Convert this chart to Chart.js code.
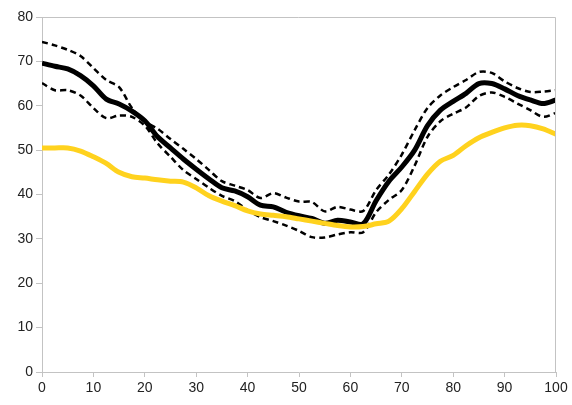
<!DOCTYPE html>
<html>
<head>
<meta charset="utf-8">
<script src="https://cdn.jsdelivr.net/npm/chart.js@4/dist/chart.umd.min.js"></script>
<style>
html,body{margin:0;padding:0;background:#fff;}
#wrap{width:572px;height:405px;position:relative;}
</style>
</head>
<body>
<div id="wrap"><canvas id="c" width="572" height="405"></canvas></div>
<script>
const xValues = [0,2.5,5,7.5,10,12.5,15,17.5,20,22.5,25,27.5,30,32.5,35,37.5,40,42.5,45,47.5,50,52.5,55,57.5,60,62.5,65,67.5,70,72.5,75,77.5,80,82.5,85,87.5,90,92.5,95,97.5,100];
const meanSeries = [69.6,68.9,68.3,66.8,64.5,61.5,60.4,58.8,56.6,53.0,50.5,48.0,45.7,43.5,41.5,40.8,39.5,37.6,37.2,36.0,35.2,34.6,33.5,34.2,33.8,33.4,38.6,43.0,46.2,50.0,55.5,59.0,61.0,62.8,65.0,65.0,63.8,62.3,61.3,60.5,61.3];
const upperSeries = [74.4,73.6,72.6,71.2,68.5,65.8,64.2,59.5,56.5,54.8,52.5,50.3,48.0,45.5,43.0,42.0,41.0,39.2,40.3,39.3,38.4,38.3,36.2,37.2,36.6,36.3,41.0,44.5,49.0,54.5,59.5,62.3,64.2,65.8,67.6,67.4,65.5,64.0,63.1,63.2,63.5];
const lowerSeries = [65.1,63.5,63.5,62.3,59.5,57.2,57.8,57.5,55.5,51.5,48.5,45.5,43.5,41.5,39.7,38.5,36.5,34.9,34.0,33.0,31.8,30.4,30.3,31.0,31.5,31.5,36.0,38.8,41.0,46.5,53.0,56.5,58.2,59.6,62.2,63.0,62.0,60.5,59.0,57.5,58.4];
const goldSeries = [50.5,50.5,50.5,49.8,48.5,47.0,45.0,44.0,43.7,43.3,43.0,42.8,41.5,39.7,38.5,37.5,36.3,35.6,35.3,35.0,34.5,34.0,33.5,33.0,32.7,32.8,33.4,34.0,36.8,40.7,44.6,47.5,48.8,51.0,52.8,54.0,55.0,55.6,55.5,54.8,53.6];
const xTicks = [0,10,20,30,40,50,60,70,80,90,100];
const yTicks = [0,10,20,30,40,50,60,70,80];

function pts(arr){ return xValues.map((x,i)=>({x:x,y:arr[i]})); }

const boxPlugin = {
  id:'box',
  afterDraw(chart){
    const a = chart.chartArea, ctx = chart.ctx;
    ctx.save();
    ctx.strokeStyle = '#c3c3c3';
    ctx.lineWidth = 1;
    ctx.beginPath();
    ctx.moveTo(a.left, a.top+0.5);
    ctx.lineTo(a.right-0.5, a.top+0.5);
    ctx.lineTo(a.right-0.5, a.bottom);
    ctx.stroke();
    ctx.restore();
  }
};

new Chart(document.getElementById('c'), {
  type:'line',
  data:{
    datasets:[
      {data:pts(goldSeries), borderColor:'#ffd21e', borderWidth:5, tension:0.3, pointRadius:0},
      {data:pts(upperSeries), borderColor:'#000', borderWidth:2.5, borderDash:[6,4], tension:0.3, pointRadius:0},
      {data:pts(lowerSeries), borderColor:'#000', borderWidth:2.5, borderDash:[6,4], tension:0.3, pointRadius:0},
      {data:pts(meanSeries), borderColor:'#000', borderWidth:5, tension:0.3, pointRadius:0}
    ]
  },
  plugins:[boxPlugin],
  options:{
    responsive:false,
    animation:false,
    layout:{padding:{left:0,right:16,top:17,bottom:0}},
    plugins:{legend:{display:false},tooltip:{enabled:false}},
    scales:{
      x:{
        type:'linear', min:0, max:100,
        afterBuildTicks(s){ s.ticks = xTicks.map(v=>({value:v})); },
        afterFit(s){ s.height = 33; },
        grid:{drawOnChartArea:false, drawTicks:true, tickLength:5, color:'#c3c3c3'},
        border:{color:'#c3c3c3', width:1},
        ticks:{color:'#222', font:{family:'Liberation Sans, Arial', size:14}, padding:3, maxRotation:0}
      },
      y:{
        min:0, max:80,
        afterBuildTicks(s){ s.ticks = yTicks.map(v=>({value:v})); },
        afterFit(s){ s.width = 42; },
        grid:{drawOnChartArea:false, drawTicks:true, tickLength:6, color:'#c3c3c3'},
        border:{color:'#c3c3c3', width:1},
        ticks:{color:'#222', font:{family:'Liberation Sans, Arial', size:14}, padding:3}
      }
    }
  }
});
</script>
</body>
</html>
